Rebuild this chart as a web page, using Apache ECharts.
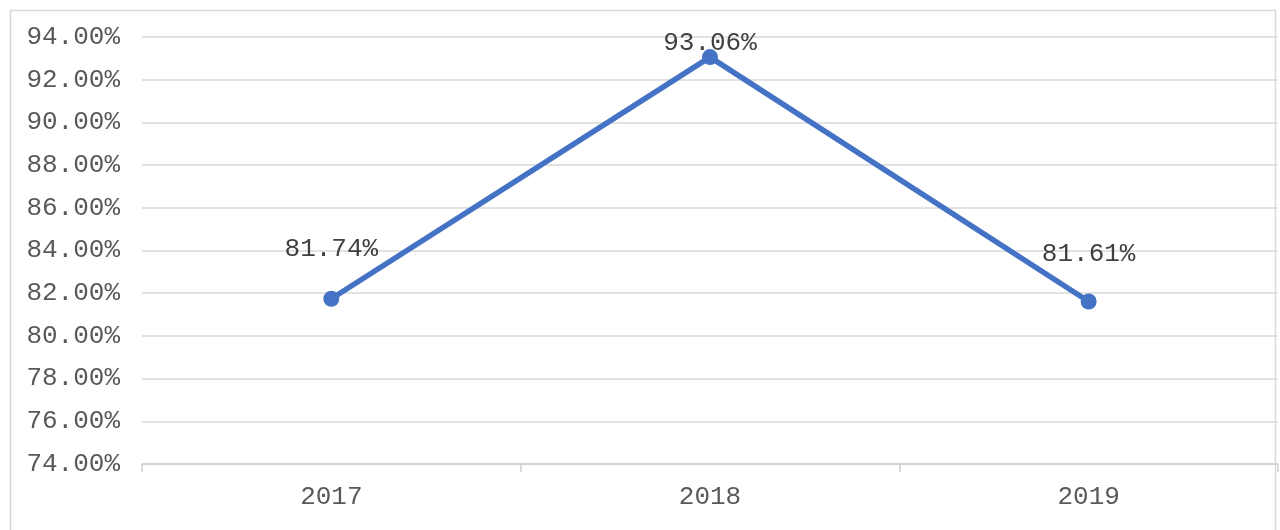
<!DOCTYPE html>
<html><head><meta charset="utf-8">
<script src="https://cdn.jsdelivr.net/npm/echarts@6/dist/echarts.min.js"></script>
<style>html,body{margin:0;padding:0;background:#fff}#c{width:1280px;height:530px}</style>
</head><body><div id="c"></div>
<script>
const categories = ['2017', '2018', '2019'];
const rates = [81.74, 93.06, 81.61];
const yMin = 74, yMax = 94, yStep = 2;

const labelShift = [[0, -24], [0, 12], [0, -21]];
const font = '"Liberation Mono", "DejaVu Sans Mono", monospace';

const chart = echarts.init(document.getElementById('c'));
chart.setOption({
  animation: false,
  backgroundColor: '#fff',
  graphic: [{
    type: 'rect', shape: { x: 10.5, y: 10.5, width: 1265, height: 540 },
    style: { fill: 'none', stroke: '#d9d9d9', lineWidth: 1.5 }
  }],
  grid: { left: 142, right: 2, top: 37, bottom: 66 },
  xAxis: {
    type: 'category', data: categories, boundaryGap: true,
    axisLine: { lineStyle: { color: '#d0d0d0', width: 1.5 } },
    axisTick: { show: true, length: 8, lineStyle: { color: '#d0d0d0', width: 1.5 } },
    axisLabel: { color: '#595959', fontFamily: font, fontSize: 26, margin: 20 }
  },
  yAxis: {
    type: 'value', min: yMin, max: yMax, interval: yStep,
    axisLine: { show: false }, axisTick: { show: false },
    splitLine: { lineStyle: { color: '#d9d9d9', width: 1.5 } },
    axisLabel: { color: '#595959', fontFamily: font, fontSize: 26, margin: 22,
      formatter: v => v.toFixed(2) + '%' }
  },
  series: [{
    type: 'line', data: rates.map((v, i) => ({ value: v,
      label: { offset: labelShift[i] } })),
    symbol: 'circle', symbolSize: 16,
    lineStyle: { color: '#4472C4', width: 5.5 },
    itemStyle: { color: '#4472C4' },
    label: { show: true, position: 'top', color: '#404040', fontFamily: font, fontSize: 26,
      formatter: p => p.value.toFixed(2) + '%' }
  }]
});
</script></body></html>
